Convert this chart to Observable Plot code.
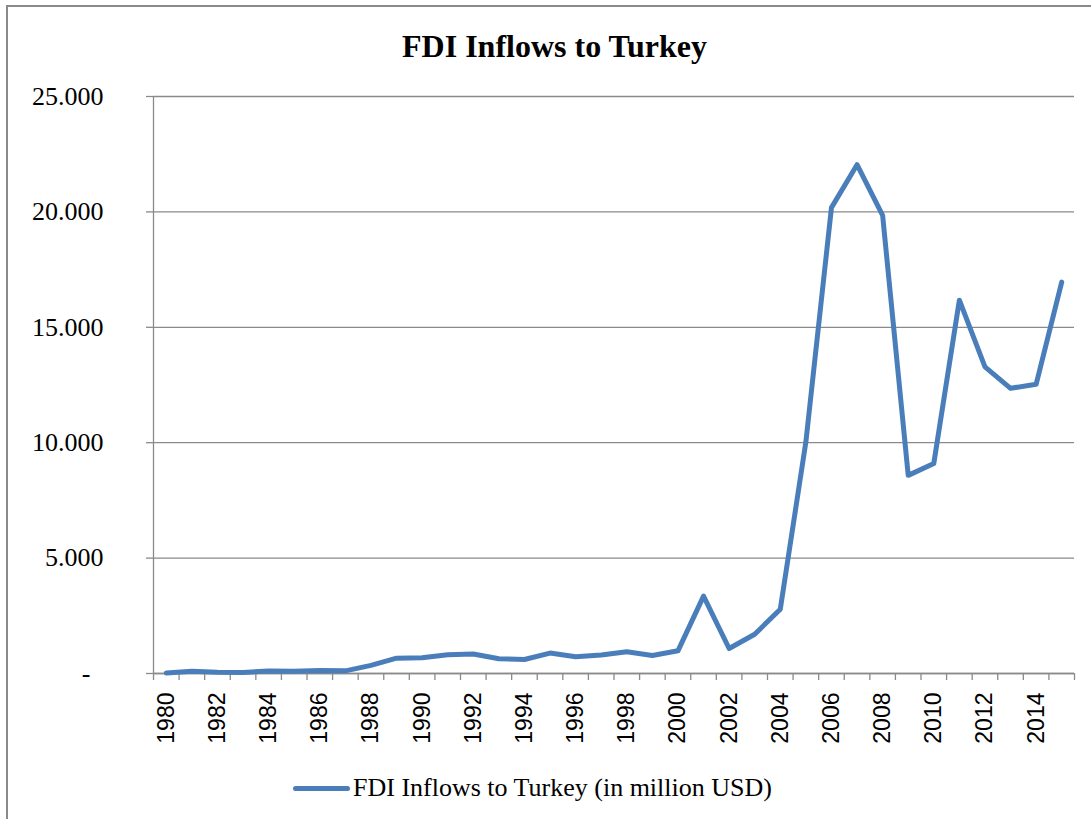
<!DOCTYPE html>
<html>
<head>
<meta charset="utf-8">
<script src="https://cdn.jsdelivr.net/npm/d3@7"></script>
<script src="https://cdn.jsdelivr.net/npm/@observablehq/plot@0.6"></script>
<style>
  html, body { margin: 0; padding: 0; background: #fff; }
  #wrap { position: relative; width: 1091px; height: 819px; overflow: hidden; background: #fff; }
  #frame { position: absolute; left: 6px; top: 5px; width: 2000px; height: 2000px;
           border-left: 2px solid #8a8a8a; border-top: 2px solid #8a8a8a; }
  #title { position: absolute; left: 9px; width: 1091px; top: 30px; text-align: center;
           font-family: "Liberation Serif", serif; font-weight: bold; font-size: 32px; line-height: 32px; color: #000; }
  #chart { position: absolute; left: 0; top: 0; }
  #legend { position: absolute; left: 293px; top: 772px; height: 32px; display: flex; align-items: center;
            font-family: "Liberation Serif", serif; font-size: 26px; color: #000; white-space: nowrap; }
  #legend .sw { width: 57px; height: 5px; border-radius: 3px; background: #4A7EBB; margin-right: 3px; }
</style>
</head>
<body>
<div id="wrap">
  <div id="frame"></div>
  <div id="chart"></div>
  <div id="title">FDI Inflows to Turkey</div>
  <div id="legend"><span class="sw"></span><span>FDI Inflows to Turkey (in million USD)</span></div>
</div>
<script>
const years = [1980, 1981, 1982, 1983, 1984, 1985, 1986, 1987, 1988, 1989,
               1990, 1991, 1992, 1993, 1994, 1995, 1996, 1997, 1998, 1999,
               2000, 2001, 2002, 2003, 2004, 2005, 2006, 2007, 2008, 2009,
               2010, 2011, 2012, 2013, 2014, 2015];
const fdiInflows = [18, 95, 55, 46, 113, 99, 125, 115, 354, 663,
                    684, 810, 844, 636, 608, 885, 722, 805, 940, 783,
                    982, 3352, 1082, 1702, 2785, 10031, 20185, 22047, 19851, 8585,
                    9099, 16176, 13283, 12357, 12531, 16958];
const yTicks = [0, 5000, 10000, 15000, 20000, 25000];
const yTickLabels = ["-\u00a0\u00a0", "5.000", "10.000", "15.000", "20.000", "25.000"];
const xLabelYears = [1980, 1982, 1984, 1986, 1988, 1990, 1992, 1994, 1996, 1998,
                     2000, 2002, 2004, 2006, 2008, 2010, 2012, 2014];
const seriesName = "FDI Inflows to Turkey (in million USD)";

const data = years.map((y, i) => ({year: y, value: fdiInflows[i]}));
const xMin = years[0] - 0.5, xMax = years[years.length - 1] + 0.5;
const boundaries = years.map(y => y - 0.5).concat([xMax]);

const gridColor = "#8a8a8a";
const lineColor = "#4A7EBB";

const chart = Plot.plot({
  width: 1091,
  height: 819,
  marginTop: 96,
  marginBottom: 146,
  marginLeft: 153,
  marginRight: 17,
  style: {background: "transparent", overflow: "visible"},
  x: {domain: [xMin, xMax]},
  y: {domain: [yTicks[0], yTicks[yTicks.length - 1]]},
  marks: [
    Plot.gridY(yTicks, {stroke: gridColor, strokeOpacity: 1, strokeWidth: 1.3}),
    Plot.axisY(yTicks, {
      tickSize: 7, stroke: gridColor, strokeWidth: 1.3, tickPadding: 43,
      tickFormat: d => yTickLabels[yTicks.indexOf(d)],
      fontFamily: "Liberation Serif", fontSize: 26, fill: "#000", label: null
    }),
    Plot.axisX(boundaries, {
      tickSize: 7, stroke: gridColor, strokeWidth: 1.3, tickFormat: () => "", label: null
    }),
    Plot.axisX(xLabelYears, {
      tickSize: 0, tickRotate: -90, tickPadding: 19, tickFormat: d => String(d),
      fontFamily: "Liberation Sans", fontSize: 23, fill: "#000", label: null
    }),
    Plot.ruleX([xMin], {stroke: gridColor, strokeWidth: 1.3}),
    Plot.ruleY([yTicks[0]], {stroke: gridColor, strokeWidth: 1.3}),
    Plot.line(data, {x: "year", y: "value", stroke: lineColor, strokeWidth: 5,
                     strokeLinejoin: "round", strokeLinecap: "round", title: () => seriesName})
  ]
});
document.getElementById("chart").appendChild(chart);
</script>
</body>
</html>
